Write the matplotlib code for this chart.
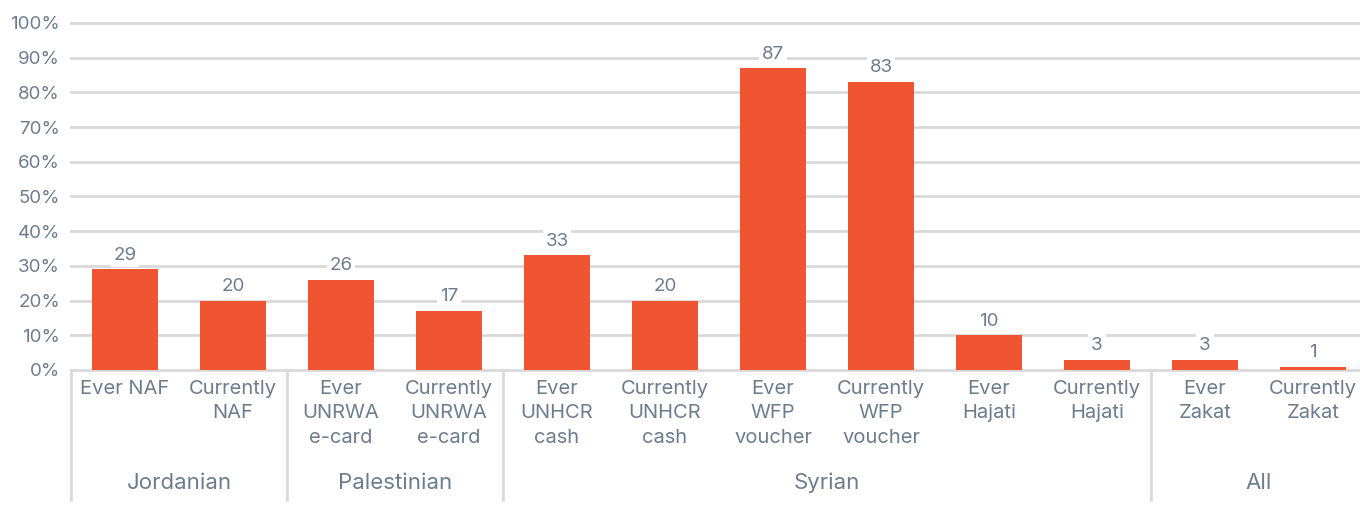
import matplotlib
matplotlib.use("Agg")
import matplotlib.pyplot as plt
import matplotlib.transforms as mtransforms

categories = ["Ever NAF", "Currently\nNAF", "Ever\nUNRWA\ne-card", "Currently\nUNRWA\ne-card",
              "Ever\nUNHCR\ncash", "Currently\nUNHCR\ncash", "Ever\nWFP\nvoucher", "Currently\nWFP\nvoucher",
              "Ever\nHajati", "Currently\nHajati", "Ever\nZakat", "Currently\nZakat"]
values = [29, 20, 26, 17, 33, 20, 87, 83, 10, 3, 3, 1]
groups = ["Jordanian", "Palestinian", "Syrian", "All"]
group_sizes = [2, 2, 6, 2]
yticks = [0, 10, 20, 30, 40, 50, 60, 70, 80, 90, 100]

W, H = 1360, 516
fig = plt.figure(figsize=(W / 100, H / 100), dpi=100)
plt.rcParams['font.family'] = ['Inter', 'DejaVu Sans']

x0, x1 = 71, 71 + 12 * 108
y0 = 370
ymax = 102
ppu = (370 - 23) / 100.0
ax_h = ymax * ppu
ax = fig.add_axes([x0 / W, (H - y0) / H, (x1 - x0) / W, ax_h / H])

txt = "#6d7d8d"
bar_c = "#f05532"
grid_c = "#d9d9d9"

xs = list(range(len(values)))
ax.bar(xs, values, width=0.62, color=bar_c, zorder=5)
ax.set_xlim(-0.5, 11.5)
ax.set_ylim(0, ymax)
ax.set_yticks(yticks)
ax.set_yticklabels([f"{v}%" for v in yticks], color=txt, fontsize=13.5)
ax.tick_params(axis='y', length=0, pad=8)
ax.set_xticks([])
for s in ax.spines.values():
    s.set_visible(False)
for v in yticks:
    ax.axhline(v, color=grid_c, lw=2, zorder=1, clip_on=False)

for x, v in zip(xs, values):
    ax.annotate(str(v), (x, v), xytext=(0, 4), textcoords='offset points',
                ha='center', va='bottom', fontsize=13.5, color=txt, zorder=4,
                bbox=dict(boxstyle='square,pad=0.15', fc='white', ec='none'))

trans = mtransforms.blended_transform_factory(ax.transData, ax.transAxes)
def ay(px):
    return -px / ax_h

for x, lab in zip(xs, categories):
    ax.text(x, ay(10), lab, transform=trans, ha='center', va='top', fontsize=14.5,
            color=txt, linespacing=1.45)

bounds = [-0.5]
for g in group_sizes:
    bounds.append(bounds[-1] + g)
for b in bounds[:-1]:
    ax.plot([b, b], [0, ay(130)], transform=trans, color=grid_c, lw=2, clip_on=False)
for i, g in enumerate(groups):
    c = (bounds[i] + bounds[i + 1]) / 2
    ax.text(c, ay(113), g, transform=trans, ha='center', va='center', fontsize=16, color=txt)

fig.savefig("out.png", dpi=100)
